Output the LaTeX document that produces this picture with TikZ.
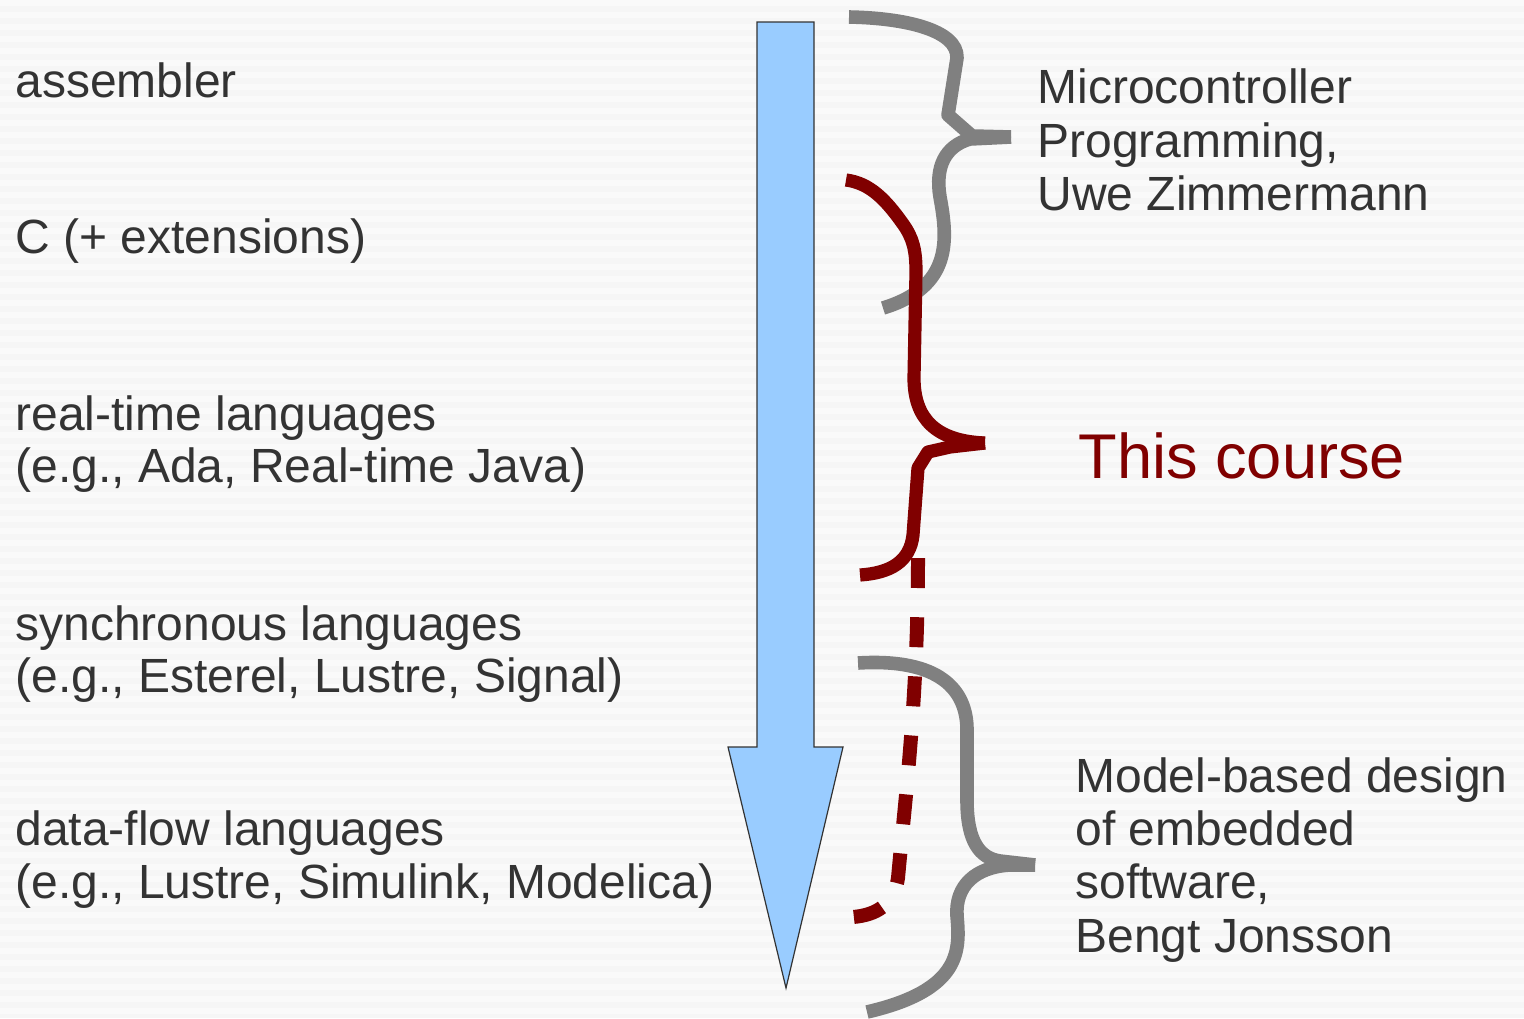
\documentclass[tikz,border=0pt]{standalone}
\usepackage{fontspec}
\setmainfont{Liberation Sans}
\definecolor{txt}{HTML}{333333}
\definecolor{course}{HTML}{800000}
\definecolor{bracegray}{HTML}{808080}
\definecolor{arrowblue}{HTML}{99CCFF}
\definecolor{bgA}{HTML}{F6F6F6}
\definecolor{bgB}{HTML}{FAFAFA}
\begin{document}
\begin{tikzpicture}[x=0.5pt,y=-0.5pt,
  lbl/.style={anchor=base west,inner sep=0pt,text=txt,font=\fontsize{24}{27}\selectfont},
  biglbl/.style={anchor=base west,inner sep=0pt,text=course,font=\fontsize{31.6}{36}\selectfont},
  graybrace/.style={draw=bracegray,line width=6.8pt,line join=round},
  redbrace/.style={draw=course,line width=6.6pt,line join=round},
  reddash/.style={draw=course,line width=7pt,dash pattern=on 15pt off 14.6pt}]
% background with faint horizontal banding
\useasboundingbox (0,0) rectangle (1524,1018);
\fill[bgA] (0,0) rectangle (1524,1018);
\foreach \k in {0,...,84}{
  \fill[bgB] (0,{\k*12}) rectangle (1524,{\k*12+6});
}
% downward arrow
\draw[fill=arrowblue,draw=txt,line width=0.6pt]
  (757,22) -- (814,22) -- (814,747) -- (843,747) -- (786,988)
  -- (728,747) -- (757,747) -- cycle;
% left column: language levels
\node[lbl] (asm) at (15,97) {assembler};
\node[lbl] (cext) at (15,253) {C (+ extensions)};
\node[lbl] (rt1) at (15,430) {real-time languages};
\node[lbl] (rt2) at (15,482) {(e.g., Ada, Real-time Java)};
\node[lbl] (sy1) at (15,640) {synchronous languages};
\node[lbl] (sy2) at (15,692) {(e.g., Esterel, Lustre, Signal)};
\node[lbl] (df1) at (15,845) {data-flow languages};
\node[lbl] (df2) at (15,898) {(e.g., Lustre, Simulink, Modelica)};
% right column: courses
\node[lbl] (mc1) at (1037,103) {Microcontroller};
\node[lbl] (mc2) at (1037,157) {Programming,};
\node[lbl] (mc3) at (1037,210) {Uwe Zimmermann};
\node[biglbl] (this) at (1078,478) {This course};
\node[lbl] (mb1) at (1075,792) {Model-based design};
\node[lbl] (mb2) at (1075,845) {of embedded};
\node[lbl] (mb3) at (1075,898) {software,};
\node[lbl] (mb4) at (1075,952) {Bengt Jonsson};
% brace tips
\coordinate (tipA) at (1011,137);
\coordinate (tipB) at (985,443);
\coordinate (tipC) at (1035,865);
% upper gray brace
\draw[graybrace] (849,17) .. controls (905,18) and (958,30) .. (957,58)
  -- (948,115) -- (972,136) -- (tipA);
\draw[graybrace] (tipA) -- (970,139) .. controls (945,146) and (935,167) .. (940,197)
  .. controls (948,240) and (952,287) .. (883,308);
% red brace: this course
\draw[redbrace] (846,180) .. controls (870,183) and (886,200) .. (903,224)
  .. controls (913,238) and (916,250) .. (916,272) -- (914,378)
  .. controls (914,418) and (935,441) .. (tipB);
\draw[redbrace] (tipB) -- (950,447) -- (928,452) -- (918,468) -- (913,535)
  .. controls (910,562) and (890,573) .. (860,575);
\draw[reddash] (918,558) .. controls (918,700) and (905,800) .. (898,878)
  .. controls (894,905) and (876,915) .. (853,917);
% lower gray brace
\draw[graybrace] (858,663) .. controls (940,658) and (967,690) .. (967,730)
  -- (967,800) .. controls (967,842) and (980,858) .. (1000,861) -- (tipC);
\draw[graybrace] (tipC) -- (1010,865) .. controls (975,867) and (955,886) .. (957,916)
  .. controls (960,950) and (962,990) .. (867,1012);
\end{tikzpicture}
\end{document}
